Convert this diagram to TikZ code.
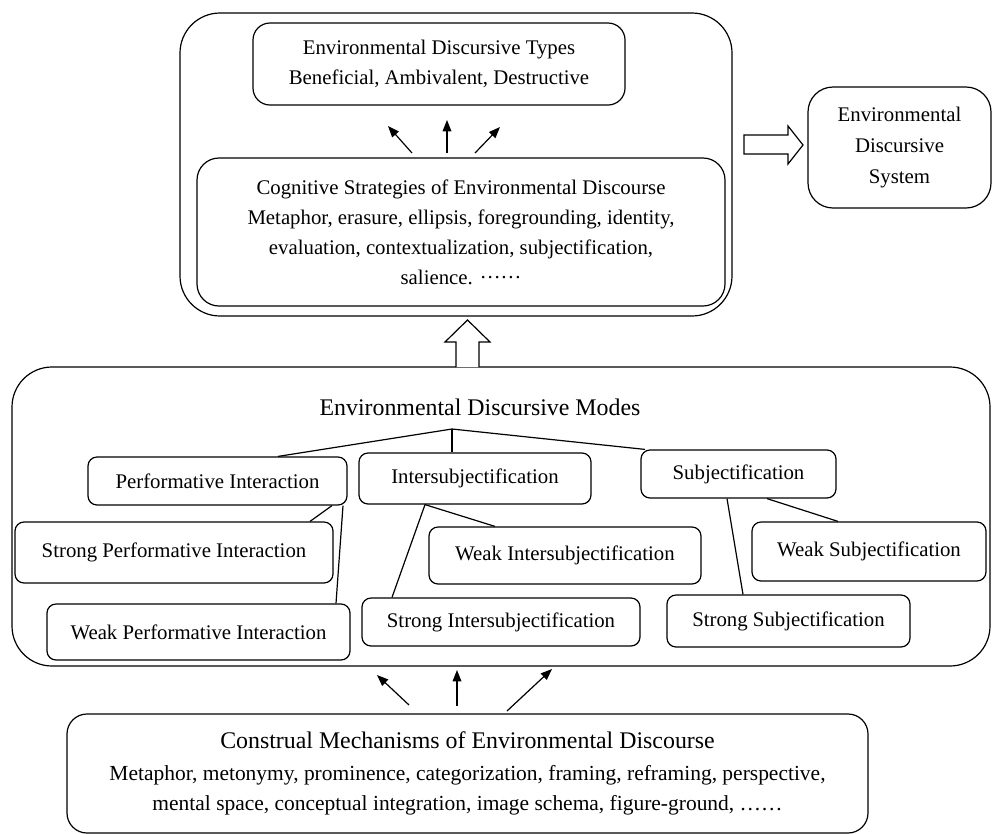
\documentclass[tikz,border=0pt]{standalone}
\usepackage{fontspec}
\setmainfont{Liberation Serif}
\usetikzlibrary{arrows.meta,calc}
\begin{document}
\begin{tikzpicture}[x=0.75pt,y=-0.75pt,
  every node/.style={font=\fontsize{15.6}{22.5}\selectfont, align=center, inner sep=0pt},
  bx/.style n args={3}{draw, line width=0.9pt, rounded corners={#1*0.75pt}, minimum width={#2*0.75pt}, minimum height={#3*0.75pt}},
  big/.style={font=\fontsize{17.9}{24}\selectfont},
  conn/.style={line width=0.9pt},
  arr/.style={line width=0.9pt, -{Triangle[length=8.5pt,width=6.5pt]}},
  hollow/.style={line width=0.9pt, line join=miter, fill=white}]
\useasboundingbox (0,0) rectangle (993,833);

% upper group
\node[bx={40}{552}{303}] (outer) at (456,164.5) {};
\node[bx={17}{372}{82}] (types) at (439,64) {Environmental Discursive Types\\Beneficial, Ambivalent, Destructive};
\node[bx={22}{528}{148}] (cog) at (461,232) {Cognitive Strategies of Environmental Discourse\\Metaphor, erasure, ellipsis, foregrounding, identity,\\evaluation, contextualization, subjectification,\\salience. \raisebox{0.28em}{……}};
\node[bx={25}{183}{121}] (sys) at (899.5,147.5) {Environmental\\[1pt]Discursive\\[1pt]System};

% arrows between cog and types
\coordinate (ta1) at (412,153); \coordinate (tb1) at (388,126);
\coordinate (ta2) at (447,153); \coordinate (tb2) at (447,120);
\coordinate (ta3) at (475,153); \coordinate (tb3) at (500,127);
\draw[arr] (ta1) -- (tb1);
\draw[arr] (ta2) -- (tb2);
\draw[arr] (ta3) -- (tb3);

% hollow right arrow
\draw[hollow] (744,135) -- (788,135) -- (788,126) -- (803,145) -- (788,164) -- (788,154) -- (744,154) -- cycle;

% middle group
\node[bx={40}{978}{299}] (mid) at (501,516.5) {};
\node[big] (modes) at (480,407) {Environmental Discursive Modes};
\draw[hollow] (456,367) -- (456,342) -- (445,342) -- (467.5,320) -- (490,342) -- (479,342) -- (479,367);

\node[bx={9}{259}{48}] (pi) at (217.5,481) {Performative Interaction};
\node[bx={9}{232}{51}] (is) at (475,478.5) {Intersubjectification};
\node[bx={9}{195}{48}] (s) at (738.5,474) {Subjectification};
\node[bx={9}{318}{61}] (spi) at (174,552.5) {Strong Performative Interaction};
\node[bx={9}{303}{56}] (wpi) at (198.5,632) {Weak Performative Interaction};
\node[bx={9}{272}{57}] (wis) at (565,555.5) {Weak Intersubjectification};
\node[bx={9}{278}{48}] (sis) at (501,622) {Strong Intersubjectification};
\node[bx={9}{234}{59}] (ws) at (869,551.5) {Weak Subjectification};
\node[bx={9}{243}{52}] (ss) at (788.5,621) {Strong Subjectification};

\coordinate (hub) at (452,429);
\draw[conn] (hub) -- (pi.north -| 278,0);
\draw[conn] (hub) -- (is.north -| 452,0);
\draw[conn] (hub) -- (s.north -| 645,0);
\draw[conn] (pi.south -| 332,0) -- (spi.north -| 310,0);
\draw[conn] (pi.south -| 343,0) -- (wpi.north -| 336,0);
\draw[conn] (is.south -| 425,0) -- (sis.north -| 392,0);
\draw[conn] (is.south -| 425,0) -- (wis.north -| 495,0);
\draw[conn] (s.south -| 727,0) -- (ss.north -| 743,0);
\draw[conn] (s.south -| 767,0) -- (ws.north -| 838,0);

% bottom group
\node[bx={20}{801}{119}] (bot) at (467.5,773.5) {{\fontsize{17.9}{24}\selectfont Construal Mechanisms of Environmental Discourse}\\[2pt]{\fontsize{16.1}{22.5}\selectfont Metaphor, metonymy, prominence, categorization, framing, reframing, perspective,}\\{\fontsize{16.1}{22.5}\selectfont mental space, conceptual integration, image schema, figure-ground, ……}};

\coordinate (ba1) at (409,705); \coordinate (bb1) at (377,675);
\coordinate (ba2) at (457,706); \coordinate (bb2) at (457,670);
\coordinate (ba3) at (507,711); \coordinate (bb3) at (552,669);
\draw[arr] (ba1) -- (bb1);
\draw[arr] (ba2) -- (bb2);
\draw[arr] (ba3) -- (bb3);
\end{tikzpicture}
\end{document}
